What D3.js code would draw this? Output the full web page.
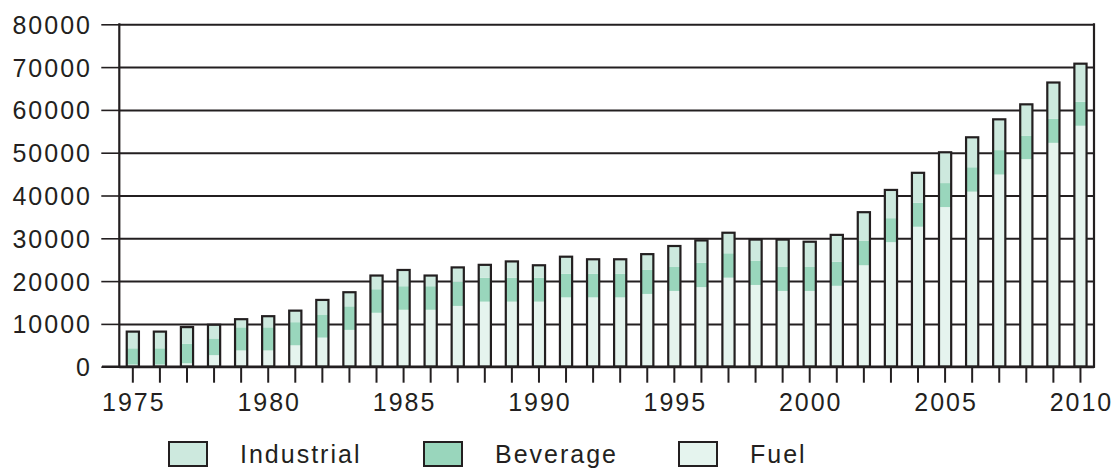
<!DOCTYPE html>
<html>
<head>
<meta charset="utf-8">
<script src="https://cdn.jsdelivr.net/npm/d3@7"></script>
<style>
  body { margin: 0; background: #fff; }
  text { font-family: "Liberation Sans", Arial, sans-serif; fill: #231f20; }
</style>
</head>
<body>
<div class="chart"></div>
<script>
'use strict';

var years = [1975, 1976, 1977, 1978, 1979, 1980, 1981, 1982, 1983, 1984,
  1985, 1986, 1987, 1988, 1989, 1990, 1991, 1992, 1993, 1994,
  1995, 1996, 1997, 1998, 1999, 2000, 2001, 2002, 2003, 2004,
  2005, 2006, 2007, 2008, 2009, 2010];

var fuel = [500, 500, 800, 2700, 3800, 3800, 5000, 6800, 8600, 12600,
  13300, 13300, 14200, 15200, 15200, 15200, 16200, 16200, 16200, 17000,
  17700, 18600, 20800, 19100, 17700, 17700, 18900, 23700, 29100, 32700,
  37300, 40900, 44900, 48500, 52300, 56300];

var beverage = [3800, 3800, 4600, 3900, 5400, 5400, 5400, 5400, 5500, 5500,
  5500, 5500, 5600, 5600, 5600, 5600, 5500, 5500, 5500, 5700,
  5700, 5700, 5700, 5700, 5700, 5700, 5600, 5700, 5600, 5600,
  5600, 5700, 5700, 5500, 5600, 5600];

var industrial = [3900, 3900, 3850, 3200, 1900, 2600, 2700, 3400, 3300, 3200,
  3800, 2500, 3400, 3000, 3800, 2900, 4000, 3400, 3400, 3600,
  4800, 5200, 4800, 4900, 6300, 5800, 6300, 6700, 6600, 7000,
  7200, 7000, 7200, 7300, 8500, 8900];

var yTicks = [0, 10000, 20000, 30000, 40000, 50000, 60000, 70000, 80000];
var xLabels = [1975, 1980, 1985, 1990, 1995, 2000, 2005, 2010];

var seriesNames = ['Fuel', 'Beverage', 'Industrial'];
var legendNames = ['Industrial', 'Beverage', 'Fuel'];
var colors = {Fuel: '#e5f4ee', Beverage: '#99d6bc', Industrial: '#cde9de'};
var ink = '#231f20';

var plot = {left: 119.3, right: 1094, top: 24.3, bottom: 366.7};

var svg = d3.select('.chart').append('svg')
  .attr('width', 1115)
  .attr('height', 468);

var x = d3.scaleBand()
  .domain(years)
  .range([plot.left, plot.right])
  .paddingInner(0.55)
  .paddingOuter(0.275);

var y = d3.scaleLinear()
  .domain([0, 80000])
  .range([plot.bottom, plot.top]);

var rows = years.map(function(yr, i) {
  return {year: yr, Fuel: fuel[i], Beverage: beverage[i], Industrial: industrial[i]};
});
var stacked = d3.stack().keys(seriesNames)(rows);

// gridlines and left ticks
svg.append('g')
  .attr('transform', 'translate(' + plot.left + ',0)')
  .call(d3.axisLeft(y).tickValues(yTicks).tickSize(-(plot.right - plot.left)).tickFormat(''))
  .call(function(g) {
    g.select('.domain').remove();
    g.selectAll('line').attr('stroke', ink).attr('stroke-width', 2);
  });

svg.append('g')
  .attr('transform', 'translate(' + plot.left + ',0)')
  .call(d3.axisLeft(y).tickValues(yTicks).tickSize(18).tickFormat(''))
  .call(function(g) {
    g.select('.domain').remove();
    g.selectAll('line').attr('stroke', ink).attr('stroke-width', 1.6);
  });

svg.selectAll('.ylab')
  .data(yTicks)
  .enter().append('text')
  .attr('class', 'ylab')
  .attr('x', 92)
  .attr('y', function(d) { return y(d) + 9.5; })
  .attr('text-anchor', 'end')
  .style('font-size', '25px')
  .style('letter-spacing', '2px')
  .text(function(d) { return d; });

// frame
svg.append('line')
  .attr('x1', plot.left).attr('x2', plot.left)
  .attr('y1', plot.top - 1).attr('y2', plot.bottom + 1)
  .attr('stroke', ink).attr('stroke-width', 2.2);
svg.append('line')
  .attr('x1', plot.right).attr('x2', plot.right)
  .attr('y1', plot.top - 1).attr('y2', plot.bottom + 1)
  .attr('stroke', ink).attr('stroke-width', 2.2);

// bottom ticks
svg.append('g')
  .attr('transform', 'translate(0,' + plot.bottom + ')')
  .call(d3.axisBottom(x).tickSize(16).tickFormat(''))
  .call(function(g) {
    g.select('.domain').remove();
    g.selectAll('line').attr('stroke', ink).attr('stroke-width', 2);
  });

svg.selectAll('.xlab')
  .data(xLabels)
  .enter().append('text')
  .attr('class', 'xlab')
  .attr('x', function(d) { return x(d) + x.bandwidth() / 2 + 1; })
  .attr('y', 411)
  .attr('text-anchor', 'middle')
  .style('font-size', '25px')
  .style('letter-spacing', '2px')
  .text(function(d) { return d; });

// bars
svg.selectAll('.layer')
  .data(stacked)
  .enter().append('g')
  .attr('class', 'layer')
  .attr('fill', function(d) { return colors[d.key]; })
  .selectAll('rect')
  .data(function(d) { return d; })
  .enter().append('rect')
  .attr('x', function(d) { return x(d.data.year); })
  .attr('width', x.bandwidth())
  .attr('y', function(d) { return y(d[1]); })
  .attr('height', function(d) { return y(d[0]) - y(d[1]); });

svg.selectAll('.outline')
  .data(stacked[stacked.length - 1])
  .enter().append('rect')
  .attr('class', 'outline')
  .attr('x', function(d) { return x(d.data.year); })
  .attr('width', x.bandwidth())
  .attr('y', function(d) { return y(d[1]); })
  .attr('height', function(d) { return y(0) - y(d[1]); })
  .attr('fill', 'none')
  .attr('stroke', ink)
  .attr('stroke-width', 2.2);

// baseline
svg.append('line')
  .attr('x1', 102).attr('x2', plot.right + 1)
  .attr('y1', plot.bottom).attr('y2', plot.bottom)
  .attr('stroke', ink).attr('stroke-width', 2.2);

// legend
var legend = svg.selectAll('.legend')
  .data(legendNames)
  .enter().append('g')
  .attr('class', 'legend')
  .attr('transform', function(d, i) { return 'translate(' + (169 + i * 255) + ',442)'; });

legend.append('rect')
  .attr('width', 38)
  .attr('height', 24)
  .attr('fill', function(d) { return colors[d]; })
  .attr('stroke', ink)
  .attr('stroke-width', 2);

legend.append('text')
  .attr('x', 71)
  .attr('y', 21)
  .style('font-size', '25px')
  .style('letter-spacing', '2px')
  .text(function(d) { return d; });
</script>
</body>
</html>
